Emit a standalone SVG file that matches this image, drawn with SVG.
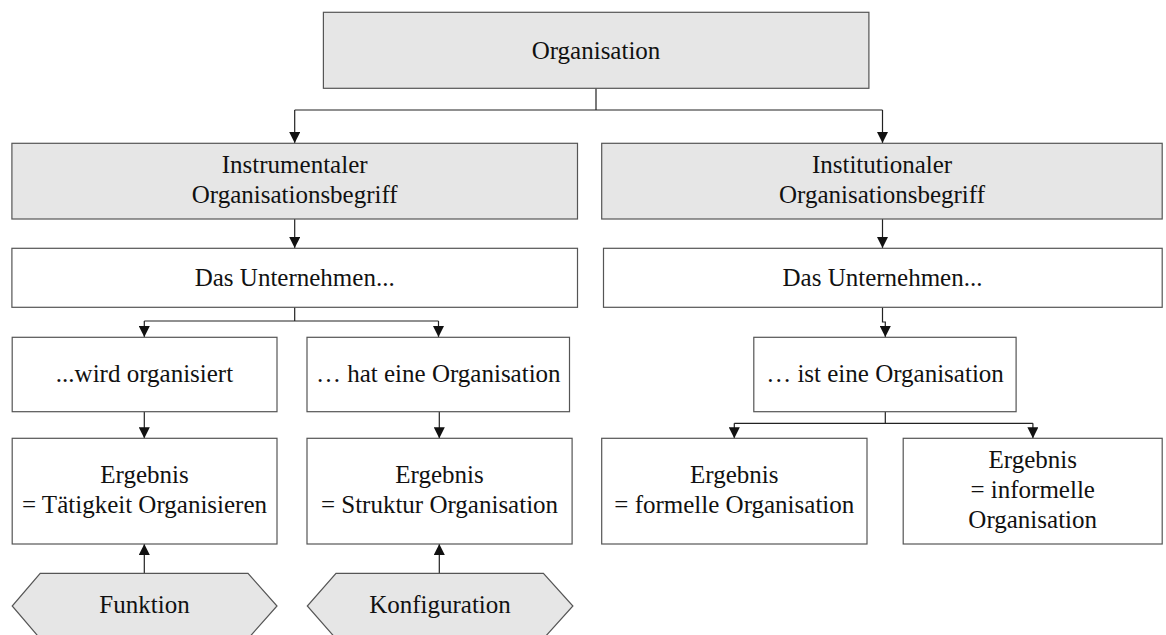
<svg xmlns="http://www.w3.org/2000/svg" width="1166" height="635" viewBox="0 0 1166 635">
<style>
.box{fill:#ffffff;stroke:#555555;stroke-width:1.2}
.gray{fill:#e6e6e6;stroke:#555555;stroke-width:1.2}
.t{font-family:'Liberation Serif','Times New Roman',serif;font-size:25px;fill:#111111;text-anchor:middle}
.c{fill:none;stroke:#222222;stroke-width:1.2}
</style>
<defs>
<marker id="ah" markerUnits="userSpaceOnUse" markerWidth="11" markerHeight="11" refX="11" refY="5.5" orient="auto">
<path d="M0,0 L11,5.5 L0,11 z" fill="#111111"/>
</marker>
</defs>
<rect width="1166" height="635" fill="#ffffff"/>
<g id="connectors">
<path class="c" d="M596,88 V110 M294.7,110 H882.5"/>
<path class="c" d="M294.7,110 V143" marker-end="url(#ah)"/>
<path class="c" d="M882.5,110 V143" marker-end="url(#ah)"/>
<path class="c" d="M294.7,219 V248" marker-end="url(#ah)"/>
<path class="c" d="M882.5,219 V248" marker-end="url(#ah)"/>
<path class="c" d="M294.7,307 V321 M144.3,321 H438.5"/>
<path class="c" d="M144.3,321 V337" marker-end="url(#ah)"/>
<path class="c" d="M438.5,321 V337" marker-end="url(#ah)"/>
<path class="c" d="M882.5,307 V322 H885.3 V337" marker-end="url(#ah)"/>
<path class="c" d="M144.3,411.7 V438.3" marker-end="url(#ah)"/>
<path class="c" d="M439.3,411.7 V438.3" marker-end="url(#ah)"/>
<path class="c" d="M885.3,411.7 V423.3 M734.3,423.3 H1032.9"/>
<path class="c" d="M734.3,423.3 V438.3" marker-end="url(#ah)"/>
<path class="c" d="M1032.9,423.3 V438.3" marker-end="url(#ah)"/>
<path class="c" d="M144.3,573.3 V544" marker-end="url(#ah)"/>
<path class="c" d="M439.3,573.3 V544" marker-end="url(#ah)"/>
</g>
<g id="organisation">
<rect class="gray" x="323.4" y="12.3" width="545.5" height="76"/>
<text class="t" x="596" y="58.5">Organisation</text>
</g>
<g id="instrumental">
<rect class="gray" x="11.9" y="143.3" width="565.6" height="75.7"/>
<text class="t" x="294.7" y="173.3">Instrumentaler</text>
<text class="t" x="294.7" y="202.7">Organisationsbegriff</text>
</g>
<g id="institutional">
<rect class="gray" x="601.7" y="143.3" width="560.5" height="75.7"/>
<text class="t" x="882" y="173.3">Institutionaler</text>
<text class="t" x="882" y="202.7">Organisationsbegriff</text>
</g>
<g id="unternehmen-left">
<rect class="box" x="11.9" y="248.3" width="565.6" height="59"/>
<text class="t" x="294.7" y="285.7">Das Unternehmen...</text>
</g>
<g id="unternehmen-right">
<rect class="box" x="603.5" y="248.3" width="558.7" height="59"/>
<text class="t" x="882.5" y="285.7">Das Unternehmen...</text>
</g>
<g id="wird-organisiert">
<rect class="box" x="12.2" y="337.3" width="264.8" height="74.4"/>
<text class="t" x="144.5" y="381.7">...wird organisiert</text>
</g>
<g id="hat-organisation">
<rect class="box" x="307" y="337.3" width="262.5" height="74.4"/>
<text class="t" x="438.3" y="381.7">… hat eine Organisation</text>
</g>
<g id="ist-organisation">
<rect class="box" x="753.8" y="337.3" width="262.3" height="74.4"/>
<text class="t" x="885" y="381.7">… ist eine Organisation</text>
</g>
<g id="ergebnis-taetigkeit">
<rect class="box" x="12.2" y="438.3" width="264.8" height="105.7"/>
<text class="t" x="144.5" y="482.7">Ergebnis</text>
<text class="t" x="144.5" y="513.3">= Tätigkeit Organisieren</text>
</g>
<g id="ergebnis-struktur">
<rect class="box" x="307" y="438.3" width="265.1" height="105.7"/>
<text class="t" x="439.5" y="482.7">Ergebnis</text>
<text class="t" x="439.5" y="513.3">= Struktur Organisation</text>
</g>
<g id="ergebnis-formell">
<rect class="box" x="601.7" y="438.3" width="265.3" height="105.7"/>
<text class="t" x="734.3" y="482.7">Ergebnis</text>
<text class="t" x="734.3" y="512.5">= formelle Organisation</text>
</g>
<g id="ergebnis-informell">
<rect class="box" x="903.2" y="438.3" width="259" height="105.7"/>
<text class="t" x="1032.7" y="468.3">Ergebnis</text>
<text class="t" x="1032.7" y="498.3">= informelle</text>
<text class="t" x="1032.7" y="527.7">Organisation</text>
</g>
<g id="funktion">
<polygon class="gray" points="40.2,573.3 248,573.3 277,606 248,638.7 40.2,638.7 12.2,606"/>
<text class="t" x="144.5" y="613.3">Funktion</text>
</g>
<g id="konfiguration">
<polygon class="gray" points="336,573.3 543.4,573.3 572.9,606 543.4,638.7 336,638.7 307.3,606"/>
<text class="t" x="440" y="613.3">Konfiguration</text>
</g>
</svg>
